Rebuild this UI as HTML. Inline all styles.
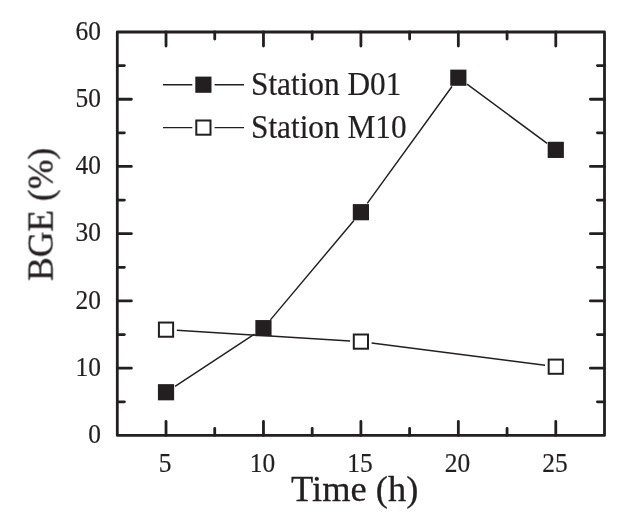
<!DOCTYPE html>
<html><head><meta charset="utf-8"><title>BGE chart</title>
<style>
html,body{margin:0;padding:0;background:#fff;}
body{width:624px;height:518px;overflow:hidden;}
svg{display:block;}
text{font-family:"Liberation Serif",serif;fill:#231f20;stroke:#231f20;stroke-width:0.3px;stroke-linejoin:round;}
g.t{opacity:0.999;}
</style></head><body>
<svg width="624" height="518" viewBox="0 0 624 518">
<rect x="0" y="0" width="624" height="518" fill="#ffffff"/>

<rect x="117.30" y="32.00" width="487.20" height="403.40" fill="none" stroke="#231f20" stroke-width="2.8" stroke-linejoin="round"/>
<path d="M117.30 401.78h7.1 M604.50 401.78h-7.1 M117.30 368.17h14.1 M604.50 368.17h-14.1 M117.30 334.55h7.1 M604.50 334.55h-7.1 M117.30 300.93h14.1 M604.50 300.93h-14.1 M117.30 267.32h7.1 M604.50 267.32h-7.1 M117.30 233.70h14.1 M604.50 233.70h-14.1 M117.30 200.08h7.1 M604.50 200.08h-7.1 M117.30 166.47h14.1 M604.50 166.47h-14.1 M117.30 132.85h7.1 M604.50 132.85h-7.1 M117.30 99.23h14.1 M604.50 99.23h-14.1 M117.30 65.62h7.1 M604.50 65.62h-7.1 M166.02 435.40v-14.1 M166.02 32.00v14.1 M214.74 435.40v-7.1 M214.74 32.00v7.1 M263.46 435.40v-14.1 M263.46 32.00v14.1 M312.18 435.40v-7.1 M312.18 32.00v7.1 M360.90 435.40v-14.1 M360.90 32.00v14.1 M409.62 435.40v-7.1 M409.62 32.00v7.1 M458.34 435.40v-14.1 M458.34 32.00v14.1 M507.06 435.40v-7.1 M507.06 32.00v7.1 M555.78 435.40v-14.1 M555.78 32.00v14.1" stroke="#231f20" stroke-width="2.8" fill="none" stroke-linecap="round"/>
<path d="M176.80 330.30L350.12 340.95 M371.61 342.99L545.07 365.31" stroke="#231f20" stroke-width="1.45" fill="none"/>
<path d="M175.04 386.30L254.44 334.10 M270.41 319.89L353.95 220.45 M367.24 203.44L452.00 86.46 M467.02 84.15L547.10 143.43" stroke="#231f20" stroke-width="1.45" fill="none"/>
<rect x="157.92" y="384.14" width="16.2" height="16.2" fill="#231f20"/>
<rect x="255.36" y="320.06" width="16.2" height="16.2" fill="#231f20"/>
<rect x="352.80" y="204.09" width="16.2" height="16.2" fill="#231f20"/>
<rect x="450.24" y="69.62" width="16.2" height="16.2" fill="#231f20"/>
<rect x="547.68" y="141.76" width="16.2" height="16.2" fill="#231f20"/>
<rect x="158.92" y="322.54" width="14.2" height="14.2" fill="#fff" stroke="#231f20" stroke-width="2"/>
<rect x="353.80" y="334.51" width="14.2" height="14.2" fill="#fff" stroke="#231f20" stroke-width="2"/>
<rect x="548.68" y="359.59" width="14.2" height="14.2" fill="#fff" stroke="#231f20" stroke-width="2"/>
<path d="M163.0 84.7H192.3M214.6 84.7H244.0" stroke="#231f20" stroke-width="1.45" fill="none"/>
<rect x="195.30" y="76.60" width="16.2" height="16.2" fill="#231f20"/>
<path d="M163.0 127.6H192.3M214.6 127.6H244.0" stroke="#231f20" stroke-width="1.45" fill="none"/>
<rect x="196.30" y="120.50" width="14.2" height="14.2" fill="#fff" stroke="#231f20" stroke-width="2"/>
<g class="t"><text transform="translate(101.00 443.15) scale(1 1.04)" font-size="25.4" text-anchor="end" style="stroke-width:0.2px">0</text>
<text transform="translate(101.00 375.92) scale(1 1.04)" font-size="25.4" text-anchor="end" style="stroke-width:0.2px">10</text>
<text transform="translate(101.00 308.68) scale(1 1.04)" font-size="25.4" text-anchor="end" style="stroke-width:0.2px">20</text>
<text transform="translate(101.00 241.45) scale(1 1.04)" font-size="25.4" text-anchor="end" style="stroke-width:0.2px">30</text>
<text transform="translate(101.00 174.22) scale(1 1.04)" font-size="25.4" text-anchor="end" style="stroke-width:0.2px">40</text>
<text transform="translate(101.00 106.98) scale(1 1.04)" font-size="25.4" text-anchor="end" style="stroke-width:0.2px">50</text>
<text transform="translate(101.00 39.75) scale(1 1.04)" font-size="25.4" text-anchor="end" style="stroke-width:0.2px">60</text>
<text transform="translate(165.12 471.60) scale(1 1.04)" font-size="25.4" text-anchor="middle" style="stroke-width:0.2px">5</text>
<text transform="translate(262.56 471.60) scale(1 1.04)" font-size="25.4" text-anchor="middle" style="stroke-width:0.2px">10</text>
<text transform="translate(360.00 471.60) scale(1 1.04)" font-size="25.4" text-anchor="middle" style="stroke-width:0.2px">15</text>
<text transform="translate(457.44 471.60) scale(1 1.04)" font-size="25.4" text-anchor="middle" style="stroke-width:0.2px">20</text>
<text transform="translate(554.88 471.60) scale(1 1.04)" font-size="25.4" text-anchor="middle" style="stroke-width:0.2px">25</text>
<text transform="translate(354.70 501.30) scale(0.99 1.0)" font-size="36.8" text-anchor="middle">Time (h)</text>
<text transform="translate(52.60 214.40) rotate(-90)" font-size="35.5" text-anchor="middle">BGE (%)</text>
<text transform="translate(251.00 95.00) scale(1 1.05)" font-size="31.3" text-anchor="start" style="stroke-width:0.2px">Station D01</text>
<text transform="translate(251.00 138.00) scale(1 1.05)" font-size="31.3" text-anchor="start" style="stroke-width:0.2px">Station M10</text></g>
</svg></body></html>
